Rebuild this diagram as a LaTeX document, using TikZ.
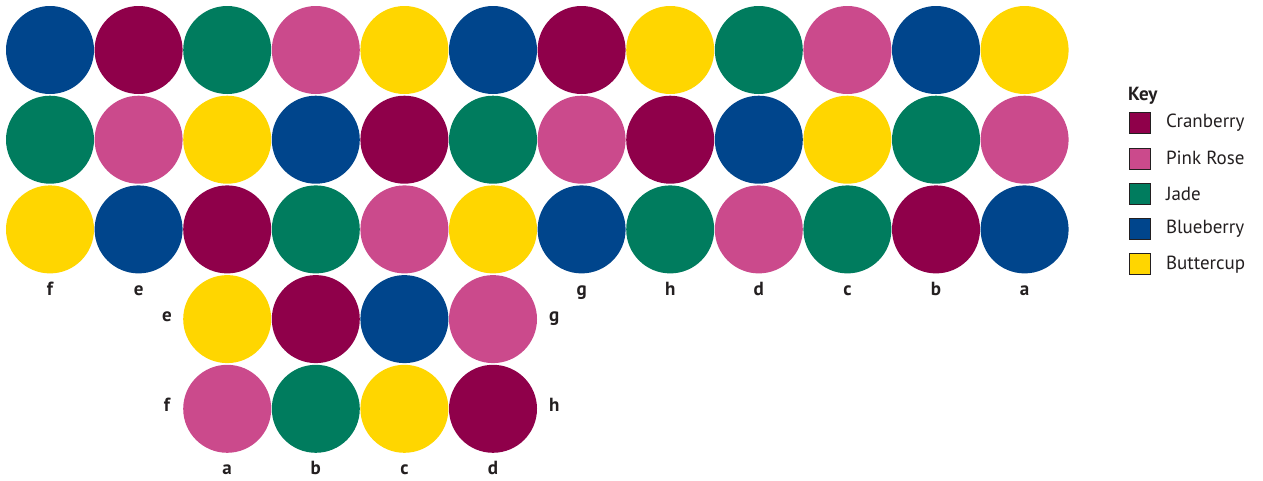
\documentclass[tikz,border=0pt]{standalone}
\usepackage{fontspec}
\setmainfont{PT Sans}
\usetikzlibrary{positioning}
\definecolor{cranberry}{RGB}{143,0,74}
\definecolor{pinkrose}{RGB}{203,74,140}
\definecolor{jade}{RGB}{0,124,94}
\definecolor{blueberry}{RGB}{0,69,140}
\definecolor{buttercup}{RGB}{255,214,0}
\definecolor{inkcol}{RGB}{35,31,32}

\begin{document}
\begin{tikzpicture}[
    x=1pt, y=-1pt,
    dot/.style={
        circle,
        minimum size=88pt,
        inner sep=0pt
    },
    tag/.style={
        font=\fontsize{19}{19}\selectfont\bfseries,
        text=inkcol,
        inner sep=0pt
    },
    swatch/.style={
        rectangle,
        draw=inkcol,
        line width=0.6pt,
        minimum size=21pt,
        inner sep=0pt
    },
    keytext/.style={
        font=\fontsize{19}{19}\selectfont,
        text=inkcol,
        inner sep=0pt
    }
]
\useasboundingbox (0,0) rectangle (1263,480);

% Top block, three rows of twelve
\foreach \c [count=\i] in {blueberry,cranberry,jade,pinkrose,buttercup,blueberry,cranberry,buttercup,jade,pinkrose,blueberry,buttercup}
    \node[dot, fill=\c] (ra\i) at ({50+88.6*(\i-1)}, 50) {};
\foreach \c [count=\i] in {jade,pinkrose,buttercup,blueberry,cranberry,jade,pinkrose,cranberry,blueberry,buttercup,jade,pinkrose}
    \node[dot, fill=\c] (rb\i) at ({50+88.6*(\i-1)}, 139.7) {};
\foreach \c [count=\i] in {buttercup,blueberry,cranberry,jade,pinkrose,buttercup,blueberry,jade,pinkrose,jade,cranberry,blueberry}
    \node[dot, fill=\c] (rc\i) at ({50+88.6*(\i-1)}, 229.4) {};

% Bottom block, two rows of four
\foreach \c [count=\i from 3] in {buttercup,cranberry,blueberry,pinkrose}
    \node[dot, fill=\c] (rd\i) at ({50+88.6*(\i-1)}, 319.1) {};
\foreach \c [count=\i from 3] in {pinkrose,jade,buttercup,cranberry}
    \node[dot, fill=\c] (re\i) at ({50+88.6*(\i-1)}, 408.8) {};

% Letters under the top block
\foreach \n/\l in {1/f,2/e,7/g,8/h,9/d,10/c,11/b,12/a}
    \node[tag, anchor=base] (top\l) at ([yshift=-22pt]rc\n.south) {\l};

% Letters round the bottom block
\foreach \n/\l in {3/a,4/b,5/c,6/d}
    \node[tag, anchor=base] (bot\l) at ([yshift=-21pt]re\n.south) {\l};
\node[tag, anchor=mid] (side-e) at ([xshift=-16pt]rd3.west) {e};
\node[tag, anchor=mid] (side-f) at ([xshift=-16pt]re3.west) {f};
\node[tag, anchor=mid] (side-g) at ([xshift=17pt]rd6.east) {g};
\node[tag, anchor=mid] (side-h) at ([xshift=17pt]re6.east) {h};

% Key
\node[keytext, font=\fontsize{19}{19}\selectfont\bfseries, anchor=base west] (keytitle) at (1128,100) {Key};
\foreach \c/\t [count=\k] in {cranberry/Cranberry,pinkrose/Pink Rose,jade/Jade,blueberry/Blueberry,buttercup/Buttercup} {
    \node[swatch, fill=\c] (key\k) at (1140, {123+35.3*(\k-1)}) {};
    \node[keytext, right=15pt of key\k] (keylabel\k) {\t};
}

\end{tikzpicture}
\end{document}
